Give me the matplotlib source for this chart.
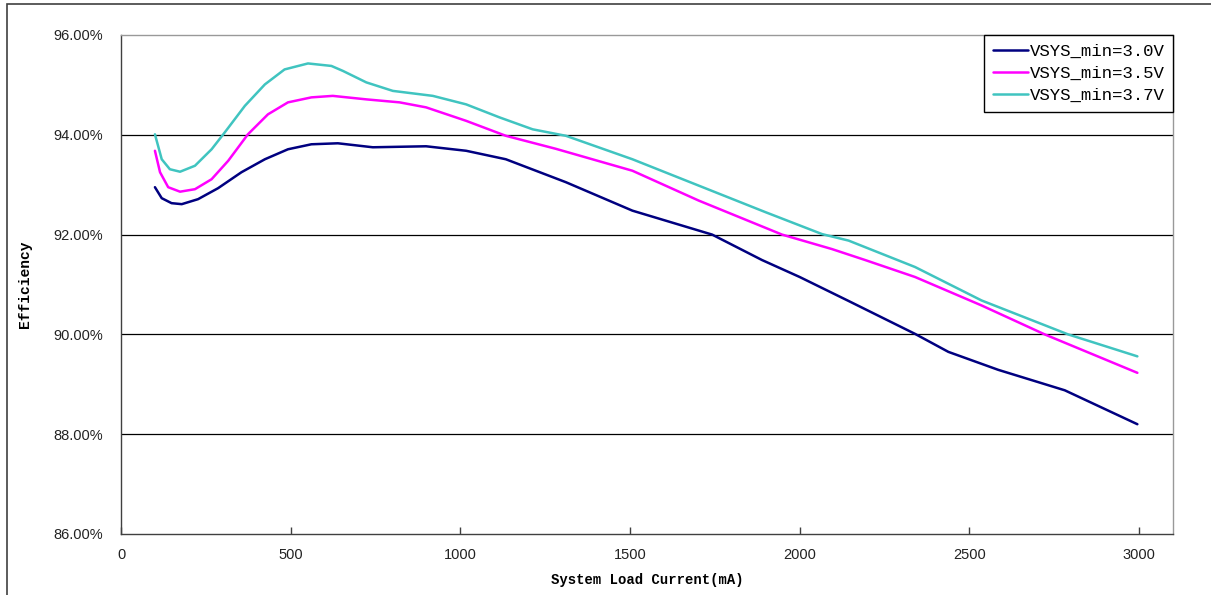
"""
Efficiency vs system load current for three VSYS_min settings.
"""
import matplotlib
matplotlib.use('Agg')
import matplotlib.pyplot as plt
from matplotlib.patches import Rectangle

# 数据
x_30 = [100, 120, 149, 179, 227, 286, 355, 424, 492, 561, 639, 742, 899, 1017, 1134, 1311,
        1507, 1742, 1889, 2000, 2144, 2340, 2438, 2585, 2781, 2995]
y_30 = [92.95, 92.73, 92.63, 92.61, 92.71, 92.93, 93.25, 93.51, 93.71, 93.81, 93.83, 93.75, 93.77, 93.68,
        93.51, 93.05, 92.48, 92.00, 91.49, 91.15, 90.67, 90.01, 89.65, 89.29, 88.88, 88.20]

x_35 = [100, 115, 139, 174, 218, 267, 316, 374, 433, 492, 561, 624, 723, 821, 899, 1017, 1134, 1281,
        1507, 1703, 1948, 2095, 2193, 2340, 2536, 2722, 2995]
y_35 = [93.68, 93.25, 92.95, 92.86, 92.91, 93.11, 93.48, 94.01, 94.41, 94.65, 94.75, 94.78, 94.71, 94.65,
        94.55, 94.28, 93.98, 93.72, 93.28, 92.68, 92.00, 91.71, 91.49, 91.15, 90.58, 90.00, 89.23]

x_37 = [100, 120, 144, 174, 218, 267, 306, 365, 424, 482, 551, 620, 654, 723, 801, 919, 1017, 1115, 1213,
        1311, 1507, 1703, 1899, 2066, 2144, 2340, 2536, 2791, 2995]
y_37 = [94.01, 93.51, 93.31, 93.26, 93.38, 93.71, 94.05, 94.58, 95.01, 95.31, 95.43, 95.38, 95.28, 95.05,
        94.88, 94.78, 94.61, 94.35, 94.11, 93.98, 93.51, 92.98, 92.45, 92.01, 91.88, 91.35, 90.68, 90.00, 89.56]

labels = ['VSYS_min=3.0V', 'VSYS_min=3.5V', 'VSYS_min=3.7V']
colors = ['#000080', '#FF00FF', '#40C4C0']
x_ticks = [0, 500, 1000, 1500, 2000, 2500, 3000]
y_ticks = [86, 88, 90, 92, 94, 96]

fig = plt.figure(figsize=(12.11, 5.95), dpi=100)
ax = fig.add_axes([121 / 1211, 1 - 534 / 595, (1173 - 121) / 1211, (534 - 35) / 595])

# 外框
fig.patches.append(Rectangle((6.5 / 1211, -0.05), 1.2, 1 - 4 / 595 + 0.05, transform=fig.transFigure,
                             fill=False, edgecolor='#404040', linewidth=1.2))

for xs, ys, lab, c in zip([x_30, x_35, x_37], [y_30, y_35, y_37], labels, colors):
    ax.plot(xs, ys, color=c, linewidth=1.8, label=lab, solid_joinstyle='round', solid_capstyle='round')

ax.set_xlim(0, 3100)
ax.set_ylim(86, 96)
ax.set_xticks(x_ticks)
ax.set_yticks(y_ticks)
ax.set_yticklabels([f'{v:.2f}%' for v in y_ticks])

# 网格线
for v in y_ticks[1:-1]:
    ax.axhline(v, color='black', linewidth=0.9, zorder=0)

for s in ['left', 'bottom']:
    ax.spines[s].set_color('#404040')
    ax.spines[s].set_linewidth(1.0)
for s in ['top', 'right']:
    ax.spines[s].set_color('#999999')
    ax.spines[s].set_linewidth(1.0)

ax.tick_params(axis='x', direction='in', length=5, width=1, color='#404040', pad=10)
ax.tick_params(axis='y', length=0, pad=13)
for t in ax.get_xticklabels() + ax.get_yticklabels():
    t.set_fontfamily('Liberation Sans')
    t.set_fontsize(10.5)
    t.set_color('#222222')

ax.set_xlabel('System Load Current(mA)', family='Liberation Mono', fontweight='bold', fontsize=10, labelpad=8)
ax.set_ylabel('Efficiency', family='Liberation Mono', fontweight='bold', fontsize=10.5, labelpad=15)

leg = ax.legend(loc='upper right', borderaxespad=0, fancybox=False, framealpha=1, edgecolor='black',
                prop={'family': 'Liberation Mono', 'size': 12.5}, labelspacing=0.4, borderpad=0.5,
                handlelength=2.0, handletextpad=0.1)
leg.get_frame().set_linewidth(1.0)

fig.savefig('out.png', dpi=100)
